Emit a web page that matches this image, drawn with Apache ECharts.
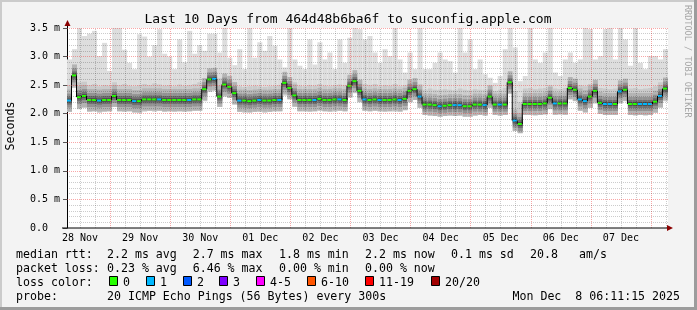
<!DOCTYPE html>
<html><head><meta charset="utf-8">
<script src="https://cdn.jsdelivr.net/npm/echarts@6/dist/echarts.min.js"></script>
<style>html,body{margin:0;padding:0;background:#f3f3f3}#c{width:697px;height:310px}</style>
</head><body><div id="c"></div>
<script>
// ---- data ----
const titleText = 'Last 10 Days from 464d48b6ba6f to suconfig.apple.com';
const startHour = 6.8;       // hours after 28 Nov 00:00 at the left edge
const slotHours = 2;         // width of each consolidated sample
const dayLabels = ['28 Nov','29 Nov','30 Nov','01 Dec','02 Dec','03 Dec','04 Dec','05 Dec','06 Dec','07 Dec'];
const dayNoonHours = [12,36,60,84,108,132,156,180,204,228];
const median = [
 2.23,2.67,2.29,2.31,2.24,2.24,2.23,2.24,2.24,2.31,
 2.24,2.24,2.24,2.22,2.22,2.25,2.25,2.25,2.25,2.24,
 2.24,2.24,2.24,2.24,2.24,2.25,2.25,2.43,2.60,2.61,
 2.30,2.51,2.47,2.36,2.23,2.23,2.22,2.23,2.24,2.23,
 2.23,2.24,2.24,2.54,2.45,2.32,2.24,2.24,2.24,2.24,
 2.26,2.24,2.24,2.25,2.25,2.24,2.49,2.57,2.40,2.25,
 2.24,2.25,2.24,2.24,2.24,2.25,2.24,2.26,2.40,2.43,
 2.30,2.16,2.16,2.15,2.13,2.14,2.15,2.15,2.15,2.13,
 2.13,2.16,2.16,2.15,2.30,2.16,2.16,2.16,2.55,1.88,
 1.82,2.17,2.17,2.17,2.17,2.18,2.28,2.18,2.18,2.18,
 2.45,2.42,2.25,2.22,2.30,2.40,2.19,2.17,2.17,2.17,
 2.39,2.42,2.17,2.17,2.17,2.17,2.17,2.21,2.31,2.44];
const smokeLow = [
 2.03,2.45,2.08,2.10,2.03,2.04,2.02,2.03,2.04,2.12,
 2.04,2.03,2.04,2.02,2.01,2.04,2.05,2.04,2.05,2.03,
 2.04,2.03,2.04,2.03,2.04,2.05,2.05,2.22,2.38,2.40,
 2.12,2.30,2.28,2.16,2.03,2.02,2.02,2.03,2.03,2.02,
 2.03,2.04,2.04,2.32,2.25,2.12,2.04,2.04,2.03,2.04,
 2.05,2.04,2.03,2.04,2.05,2.04,2.28,2.36,2.20,2.05,
 2.04,2.05,2.04,2.03,2.04,2.04,2.03,2.06,2.20,2.24,
 2.10,1.98,1.97,1.96,1.95,1.96,1.97,1.96,1.97,1.95,
 1.95,1.97,1.98,1.97,2.10,1.98,1.97,1.98,2.35,1.70,
 1.66,1.98,1.98,1.97,1.98,1.99,2.08,1.98,1.99,1.98,
 2.25,2.22,2.05,2.02,2.10,2.18,2.00,1.98,1.98,1.98,
 2.18,2.22,1.98,1.97,1.98,1.97,1.98,2.02,2.10,2.22];
const smokeMid = [
 2.50,2.78,2.55,2.56,2.50,2.52,2.48,2.50,2.49,2.55,
 2.50,2.52,2.49,2.48,2.50,2.52,2.50,2.53,2.51,2.49,
 2.50,2.48,2.51,2.49,2.50,2.52,2.55,2.62,2.72,2.74,
 2.62,2.66,2.62,2.55,2.48,2.47,2.48,2.49,2.48,2.47,
 2.48,2.49,2.50,2.68,2.62,2.55,2.49,2.48,2.50,2.49,
 2.52,2.49,2.48,2.50,2.51,2.50,2.66,2.72,2.60,2.52,
 2.50,2.52,2.48,2.50,2.49,2.52,2.48,2.50,2.60,2.62,
 2.52,2.42,2.44,2.42,2.42,2.43,2.42,2.41,2.44,2.42,
 2.41,2.43,2.42,2.42,2.50,2.40,2.42,2.45,2.68,2.40,
 2.20,2.44,2.45,2.43,2.44,2.45,2.50,2.44,2.43,2.45,
 2.62,2.60,2.50,2.48,2.52,2.58,2.45,2.44,2.43,2.44,
 2.58,2.60,2.44,2.45,2.43,2.44,2.45,2.48,2.55,2.62];
const smokeMax = [
 2.95,3.13,3.50,3.36,3.40,3.45,3.01,3.24,2.75,3.50,
 3.50,3.12,2.89,2.78,3.39,3.35,3.00,3.20,3.48,3.05,
 3.00,2.78,3.30,2.90,3.45,3.05,3.20,3.10,3.40,3.40,
 3.07,3.50,2.98,2.85,3.13,2.78,3.50,2.98,3.25,3.10,
 3.36,3.19,2.95,2.81,3.50,2.95,2.84,2.78,3.30,2.86,
 3.25,2.95,3.07,2.78,3.30,2.89,3.33,3.50,3.48,3.30,
 3.36,3.07,2.89,3.13,3.01,3.50,2.95,2.72,3.07,2.78,
 3.50,2.78,2.78,2.89,3.07,2.95,2.92,2.72,3.50,3.07,
 3.30,2.78,2.95,2.69,2.63,2.54,2.66,3.13,3.50,3.16,
 2.57,2.66,3.50,2.95,2.89,3.07,3.50,2.72,2.66,2.95,
 3.07,2.89,2.95,3.50,3.48,2.95,3.01,3.48,3.50,2.95,
 3.50,3.30,2.84,3.50,2.89,2.78,3.01,3.01,2.95,3.13];
const lossCount = [
 1,0,0,0,0,0,1,0,0,0, 0,0,0,1,0,0,0,0,1,0, 0,0,0,0,1,0,0,0,0,1,
 0,0,0,0,1,0,0,0,1,0, 0,0,1,0,0,0,0,0,0,1, 0,0,0,0,1,0,0,0,0,1,
 0,0,1,0,0,0,1,0,0,0, 1,0,0,0,1,0,0,1,1,0, 0,0,0,1,0,0,1,0,0,1,
 0,0,0,0,0,0,0,1,0,0, 0,0,1,1,0,0,0,1,1,0, 1,0,0,0,1,1,1,0,1,0];
const lossLabels = ['0','1','2','3','4-5','6-10','11-19','20/20'];
const lossColors = ['#26ff00','#00b8ff','#0059ff','#7e00ff','#ff00ff','#ff5500','#ff0000','#a10000'];
const rttStats = ['2.2 ms avg','2.7 ms max','1.8 ms min','2.2 ms now','0.1 ms sd','20.8','am/s'];
const lossStats = ['0.23 % avg','6.46 % max','0.00 % min','0.00 % now'];
const probeText = '20 ICMP Echo Pings (56 Bytes) every 300s';
const dateText = 'Mon Dec  8 06:11:15 2025';

// ---- layout / style ----
const MONO = "'DejaVu Sans Mono', monospace";
const legendFont = '11.6px ' + MONO;
const statX = [107, 192.7, 279, 365, 451, 530, 579];
const boxX = [109, 146, 183, 219, 256, 307, 365, 431];

const rows = median.map((m, i) => [startHour + i * slotHours, startHour + (i + 1) * slotHours,
  smokeLow[i], smokeMid[i], smokeMax[i], m]);

function smokeItem(params, api) {
  const t0 = api.value(0), t1 = api.value(1);
  const pLo = api.coord([t0, api.value(2)]);
  const pMax = api.coord([t1, api.value(4)]);
  const yMid = api.coord([t0, api.value(3)])[1];
  const yMd = api.coord([t0, api.value(5)])[1];
  const x0 = pLo[0], w = pMax[0] - pLo[0];
  const yLo = pLo[1], yMax = pMax[1];
  const ch = [];
  const r = (ya, yb, color) => {
    const top = Math.max(Math.min(ya, yb), yMax);
    const bot = Math.min(Math.max(ya, yb), yLo);
    if (bot > top) ch.push({type: 'rect', shape: {x: x0, y: top, width: w, height: bot - top}, style: {fill: color}});
  };
  r(yMax, yLo, '#dddddd');
  r(yMid, yLo, '#cacaca');
  r(yMd - 11, yMd + 11, '#b3b3b3');
  r(yMd - 7, yMd + 7, '#929292');
  r(yMd - 4, yMd + 4, '#707070');
  r(yMd - 2, yMd + 2, '#505050');
  return {type: 'group', children: ch};
}

function medianItem(params, api) {
  const i = params.dataIndex;
  const p0 = api.coord([api.value(0), api.value(5)]);
  const p1 = api.coord([api.value(1), api.value(5)]);
  const ch = [];
  if (i < median.length - 1) {
    const yn = api.coord([api.value(1), median[i + 1]])[1];
    ch.push({type: 'line', shape: {x1: p1[0] - 0.5, y1: p0[1], x2: p1[0] - 0.5, y2: yn}, style: {stroke: '#000', lineWidth: 1}});
  }
  ch.push({type: 'line', shape: {x1: p0[0], y1: p0[1], x2: p1[0] - 1, y2: p0[1]}, style: {stroke: lossColors[lossCount[i]], lineWidth: 2}});
  return {type: 'group', children: ch};
}

// grid lines (drawn over the smoke, as rrdtool does)
const gridMarks = [];
for (let h = 12; h <= 246; h += 6) {
  gridMarks.push({xAxis: h, lineStyle: {color: h % 24 === 0 ? 'rgba(240,60,60,0.45)' : 'rgba(0,0,0,0.2)', type: [1, 1], width: 1}});
}
for (let k = 1; k <= 35; k++) {
  gridMarks.push({yAxis: k / 10, lineStyle: {color: k % 5 === 0 ? 'rgba(240,60,60,0.45)' : 'rgba(0,0,0,0.2)', type: [1, 1], width: 1}});
}

const graphic = [
  {type: 'rect', shape: {x: 0, y: 0, width: 697, height: 2}, style: {fill: '#cbcbcb'}, silent: true},
  {type: 'rect', shape: {x: 0, y: 0, width: 2, height: 310}, style: {fill: '#cbcbcb'}, silent: true},
  {type: 'rect', shape: {x: 694, y: 0, width: 3, height: 310}, style: {fill: '#9c9c9c'}, silent: true},
  {type: 'rect', shape: {x: 0, y: 307, width: 697, height: 3}, style: {fill: '#9c9c9c'}, silent: true},
  {type: 'line', shape: {x1: 67.5, y1: 28, x2: 67.5, y2: 24}, style: {stroke: '#000', lineWidth: 1}, z: 10},
  {type: 'polygon', shape: {points: [[64.5, 26], [70.5, 26], [67.5, 20]]}, style: {fill: '#8b0000'}, z: 10},
  {type: 'line', shape: {x1: 62, y1: 228, x2: 668, y2: 228}, style: {stroke: '#000', lineWidth: 1}, z: 10},
  {type: 'polygon', shape: {points: [[667, 225], [667, 231], [673, 228]]}, style: {fill: '#8b0000'}, z: 10},
  {type: 'text', x: 348, y: 19.5, style: {text: titleText, font: '13px ' + MONO, fill: '#000', textAlign: 'center', textVerticalAlign: 'middle'}},
  {type: 'text', x: 10.5, y: 126, rotation: Math.PI / 2, style: {text: 'Seconds', font: legendFont, fill: '#000', textAlign: 'center', textVerticalAlign: 'middle'}},
  {type: 'text', x: 687, y: 5, rotation: -Math.PI / 2, style: {text: 'RRDTOOL / TOBI OETIKER', font: '8.5px ' + MONO, fill: '#a6a6a6', textAlign: 'left', textVerticalAlign: 'middle'}},
  {type: 'text', x: 16, y: 254.5, style: {text: 'median rtt:', font: legendFont, fill: '#000', textVerticalAlign: 'middle'}},
  {type: 'text', x: 16, y: 268.5, style: {text: 'packet loss:', font: legendFont, fill: '#000', textVerticalAlign: 'middle'}},
  {type: 'text', x: 16, y: 282.5, style: {text: 'loss color:', font: legendFont, fill: '#000', textVerticalAlign: 'middle'}},
  {type: 'text', x: 16, y: 296.5, style: {text: 'probe:', font: legendFont, fill: '#000', textVerticalAlign: 'middle'}},
  {type: 'text', x: 107, y: 296.5, style: {text: probeText, font: legendFont, fill: '#000', textVerticalAlign: 'middle'}},
  {type: 'text', x: 680, y: 296.5, style: {text: dateText, font: legendFont, fill: '#000', textAlign: 'right', textVerticalAlign: 'middle'}}
];
rttStats.forEach((s, i) => graphic.push({type: 'text', x: statX[i], y: 254.5, style: {text: s, font: legendFont, fill: '#000', textVerticalAlign: 'middle'}}));
lossStats.forEach((s, i) => graphic.push({type: 'text', x: statX[i], y: 268.5, style: {text: s, font: legendFont, fill: '#000', textVerticalAlign: 'middle'}}));
lossLabels.forEach((s, i) => {
  graphic.push({type: 'rect', shape: {x: boxX[i] + 0.5, y: 276.5, width: 8, height: 9}, style: {fill: lossColors[i], stroke: '#000', lineWidth: 1}});
  graphic.push({type: 'text', x: boxX[i] + 14, y: 282.5, style: {text: s, font: legendFont, fill: '#000', textVerticalAlign: 'middle'}});
});

const chart = echarts.init(document.getElementById('c'), null, {renderer: 'canvas'});
chart.setOption({
  animation: false,
  backgroundColor: '#f3f3f3',
  grid: {left: 67, right: 29, top: 28, bottom: 82, show: true, backgroundColor: '#ffffff', borderWidth: 0},
  xAxis: {
    type: 'value', min: startHour, max: startHour + median.length * slotHours,
    axisLine: {show: false},
    axisTick: {show: false},
    splitLine: {show: false},
    axisLabel: {
      customValues: dayNoonHours, margin: 5, fontSize: 10, fontFamily: MONO, color: '#000',
      formatter: v => dayLabels[Math.round((v - dayNoonHours[0]) / 24)]
    }
  },
  yAxis: {
    type: 'value', min: 0, max: 3.5, interval: 0.5,
    axisLine: {show: true, lineStyle: {color: '#000', width: 1}},
    axisTick: {show: true, length: 4, lineStyle: {color: '#555'}},
    splitLine: {show: false},
    axisLabel: {margin: 7, fontSize: 10, fontFamily: MONO, color: '#000',
      formatter: v => v === 0 ? '0.0  ' : v.toFixed(1) + ' m'}
  },
  series: [
    {type: 'custom', name: 'smoke', data: rows, renderItem: smokeItem, clip: true, z: 2, silent: true,
      encode: {x: [0, 1], y: [2, 3, 4, 5]}},
    {type: 'line', name: 'grid', data: [], z: 3, silent: true,
      markLine: {silent: true, symbol: ['none', 'none'], label: {show: false}, animation: false, data: gridMarks}},
    {type: 'custom', name: 'median', data: rows, renderItem: medianItem, clip: true, z: 4, silent: true,
      encode: {x: [0, 1], y: [5]}}
  ],
  graphic: graphic
});
</script></body></html>
